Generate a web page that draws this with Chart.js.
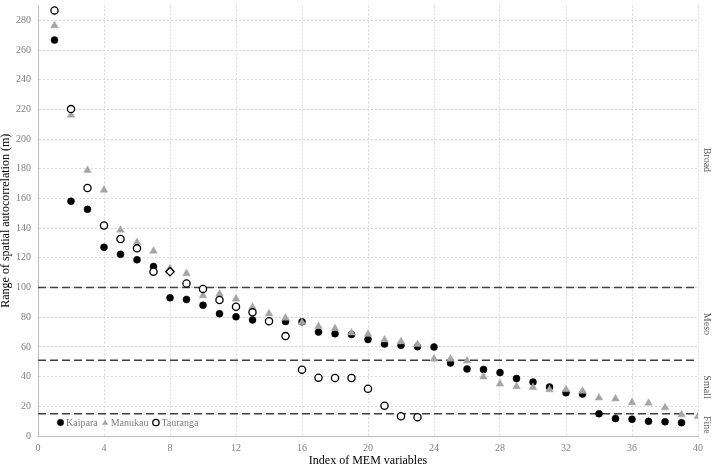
<!DOCTYPE html>
<html>
<head>
<meta charset="utf-8">
<script src="https://cdn.jsdelivr.net/npm/chart.js@4.4.0/dist/chart.umd.min.js"></script>
<style>
  html, body { margin: 0; padding: 0; background: #ffffff; }
  #wrap { width: 715px; height: 467px; position: relative; }
</style>
</head>
<body>
<div id="wrap"><canvas id="c" width="715" height="467"></canvas></div>
<script>
// ---- data ----
const memIndex = [1,2,3,4,5,6,7,8,9,10,11,12,13,14,15,16,17,18,19,20,21,22,23,24,25,26,27,28,29,30,31,32,33,34,35,36,37,38,39,40];
const kaipara = [266.7,158.2,152.7,127.1,122.4,118.7,114.2,93.1,92.0,88.1,82.4,80.3,78.2,77.3,77.1,77.0,70.0,68.9,68.4,65.0,62.0,61.1,60.2,60.0,49.2,45.2,44.8,42.7,38.7,36.3,33.0,29.1,28.3,15.0,11.8,11.3,9.9,9.6,9.0];
const manukau = [276.5,216.2,179.0,165.7,138.8,130.4,124.6,112.8,109.5,94.6,95.7,92.4,86.8,82.4,79.5,76.4,73.9,72.4,69.5,68.6,64.8,63.5,61.7,51.9,51.9,50.6,39.9,35.1,33.3,32.8,31.3,31.3,30.2,25.7,25.1,22.6,22.2,19.1,14.4,13.3];
const tauranga = [286.7,220.2,167.1,141.8,132.7,126.4,110.7,110.7,102.7,99.1,91.6,87.1,83.3,77.3,67.3,44.7,39.3,39.1,39.1,31.8,20.4,13.3,12.7];
const seriesNames = ['Kaipara', 'Manukau', 'Tauranga'];
const thresholds = [100, 51, 15];
const bandNames = ['Broad', 'Meso', 'Small', 'Fine'];
const bandTop = 272;
const xTicks = [0,4,8,12,16,20,24,28,32,36,40];
const yTicks = [0,20,40,60,80,100,120,140,160,180,200,220,240,260,280];

const toPoints = arr => arr.map((v, i) => ({ x: memIndex[i], y: v }));

const SERIF = "'Liberation Serif', 'Times New Roman', serif";
Chart.defaults.font.family = SERIF;

const overlay = {
  id: 'overlay',
  beforeDatasetsDraw(chart) {
    const { ctx, chartArea: a, scales: { y } } = chart;
    ctx.save();
    ctx.strokeStyle = '#3f3f3f';
    ctx.lineWidth = 1.5;
    ctx.setLineDash([8, 4]);
    thresholds.forEach(v => {
      const py = y.getPixelForValue(v);
      ctx.beginPath();
      ctx.moveTo(a.left, py);
      ctx.lineTo(a.right, py);
      ctx.stroke();
    });
    ctx.restore();
  },
  afterDraw(chart) {
    const { ctx, chartArea: a, scales: { y } } = chart;
    // band labels on the right
    const bounds = [bandTop, ...thresholds.slice().sort((p, q) => q - p), 0];
    ctx.save();
    ctx.fillStyle = '#595959';
    ctx.font = '10px ' + SERIF;
    ctx.textAlign = 'center';
    ctx.textBaseline = 'middle';
    bandNames.forEach((name, i) => {
      const mid = (bounds[i] + bounds[i + 1]) / 2;
      const py = y.getPixelForValue(mid);
      ctx.save();
      ctx.translate(a.right + 9, py);
      ctx.rotate(Math.PI / 2);
      ctx.fillText(name, 0, 0);
      ctx.restore();
    });
    ctx.restore();

    // legend inside the plot, bottom-left
    ctx.save();
    ctx.font = '10px ' + SERIF;
    ctx.textAlign = 'left';
    ctx.textBaseline = 'middle';
    const ly = a.bottom - 13.5;
    let lx = a.left + 22.5;
    chart.data.datasets.forEach((ds) => {
      ctx.save();
      ctx.fillStyle = ds.pointBackgroundColor;
      ctx.strokeStyle = ds.pointBorderColor;
      ctx.lineWidth = ds.pointBorderWidth;
      const isTri = ds.pointStyle === 'triangle';
      Chart.helpers.drawPoint(ctx, {
        pointStyle: isTri ? 'triangle' : 'circle',
        radius: isTri ? 3 : 3.2,
        rotation: 0,
        borderWidth: ds.pointBorderWidth
      }, lx, ly + (isTri ? 0.5 : 0));
      ctx.restore();
      ctx.fillStyle = '#7f7f7f';
      const tx = lx + 5.5;
      ctx.fillText(ds.label, tx, ly + 0.5);
      lx = tx + ctx.measureText(ds.label).width + 7.5;
    });
    ctx.restore();
  }
};

new Chart(document.getElementById('c'), {
  type: 'scatter',
  data: {
    datasets: [
      {
        label: seriesNames[0],
        data: toPoints(kaipara),
        pointStyle: 'circle',
        pointRadius: 3.5,
        pointHoverRadius: 3.5,
        pointBackgroundColor: '#000000',
        pointBorderColor: '#000000',
        pointBorderWidth: 0.5,
        order: 3
      },
      {
        label: seriesNames[1],
        data: toPoints(manukau),
        pointStyle: 'triangle',
        pointRadius: 4.4,
        pointHoverRadius: 4.4,
        pointBackgroundColor: '#a5a5a5',
        pointBorderColor: '#a5a5a5',
        pointBorderWidth: 0.5,
        order: 2
      },
      {
        label: seriesNames[2],
        data: toPoints(tauranga),
        pointStyle: ctx => (ctx.dataIndex === 7 ? 'rectRot' : 'circle'),
        pointRadius: ctx => (ctx.dataIndex === 7 ? 4.2 : 3.6),
        pointHoverRadius: 3.6,
        pointBackgroundColor: '#ffffff',
        pointBorderColor: '#000000',
        pointBorderWidth: 1.3,
        order: 1
      }
    ]
  },
  options: {
    responsive: false,
    animation: false,
    devicePixelRatio: 1,
    layout: { padding: { top: 1, right: 17, left: 0, bottom: 0 } },
    plugins: {
      legend: { display: false },
      tooltip: { enabled: false }
    },
    scales: {
      x: {
        type: 'linear',
        min: 0,
        max: 40,
        afterBuildTicks: s => { s.ticks = xTicks.map(v => ({ value: v })); },
        afterFit: s => { s.height = 31; s.paddingLeft = 0; s.paddingRight = 0; },
        ticks: { font: { size: 10, family: SERIF }, color: '#7f7f7f', padding: 6, maxRotation: 0 },
        grid: { color: '#d9d9d9', lineWidth: 1, drawTicks: false },
        border: { display: true, color: '#bfbfbf', width: 1, dash: [2, 2] },
        title: {
          display: true,
          text: 'Index of MEM variables',
          color: '#000000',
          font: { size: 12, family: SERIF, lineHeight: 1 },
          padding: { top: 0, bottom: 0 }
        }
      },
      y: {
        type: 'linear',
        min: 0,
        max: 290,
        afterBuildTicks: s => { s.ticks = yTicks.map(v => ({ value: v })); },
        afterFit: s => { s.width = 38; s.paddingTop = 0; s.paddingBottom = 0; },
        ticks: { font: { size: 10, family: SERIF }, color: '#7f7f7f', padding: 7 },
        grid: { color: '#d9d9d9', lineWidth: 1, drawTicks: false },
        border: { display: true, color: '#bfbfbf', width: 1, dash: [2, 2] },
        title: {
          display: true,
          text: 'Range of spatial autocorrelation (m)',
          color: '#000000',
          font: { size: 12, family: SERIF, lineHeight: 1 },
          padding: { top: 0, bottom: 0 }
        }
      }
    }
  },
  plugins: [overlay]
});
</script>
</body>
</html>
